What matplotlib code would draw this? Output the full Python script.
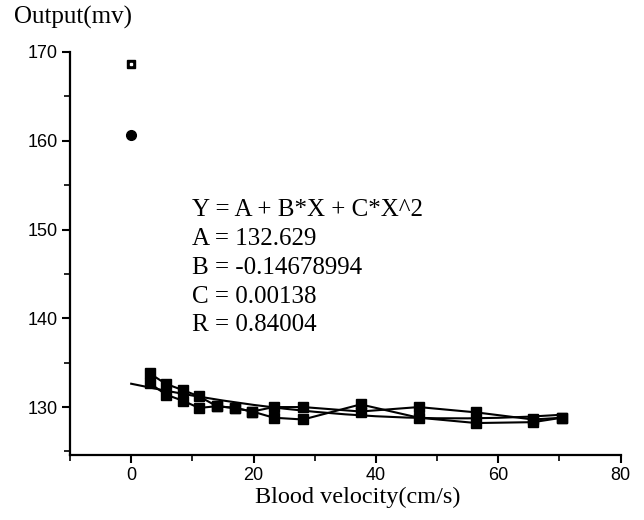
import matplotlib.pyplot as plt
from matplotlib.ticker import MultipleLocator

# 数据
vel = [3, 5.7, 8.5, 11.1, 14, 16.9, 19.8, 23.3, 28.1, 37.5, 47, 56.4, 65.7, 70.4]
out_a = [133.8, 132.6, 131.9, 131.2, 130.1, 129.9, 129.5, 130.0, 130.0, 129.5, 130.0, 129.4, 128.6, 128.8]
out_b = [132.7, 131.4, 130.7, 129.9, 130.1, 129.9, 129.5, 128.8, 128.6, 130.3, 128.8, 128.2, 128.3, 128.8]
zero_square = 168.7
zero_circle = 160.6

A = 132.629
B = -0.14678994
C = 0.00138
R = 0.84004
fit_x = [0, 5, 10, 15, 20, 25, 30, 35, 40, 45, 50, 55, 60, 65, 70.4]

fit_text = ["Y = A + B*X + C*X^2", "A = 132.629", "B = -0.14678994",
            "C = 0.00138", "R = 0.84004"]


def main():
    fig = plt.figure(figsize=(6.44, 5.2), dpi=100)
    ax = fig.add_axes([0.1087, 0.125, 0.855, 0.775])

    fit_y = [A + B * x + C * x * x for x in fit_x]
    ax.plot(fit_x, fit_y, color='black', lw=1.5)

    ax.plot(vel, out_a, color='black', lw=1.5, marker='s', ms=7.5)
    ax.plot(vel, out_b, color='black', lw=1.5, marker='s', ms=7.5)

    ax.plot(0, zero_square, marker='s', ms=6, color='black',
            markerfacecolor='black', markeredgecolor='black', ls='none')
    ax.plot(0, zero_square, marker='s', ms=1.5, color='white', ls='none')
    ax.plot(0, zero_circle, marker='o', ms=7, color='black', ls='none')

    ax.set_xlim(-10, 80)
    ax.set_ylim(124.6, 170)
    ax.xaxis.set_major_locator(MultipleLocator(20))
    ax.xaxis.set_minor_locator(MultipleLocator(10))
    ax.set_xticks([0, 20, 40, 60, 80])
    ax.yaxis.set_major_locator(MultipleLocator(10))
    ax.yaxis.set_minor_locator(MultipleLocator(5))
    ax.set_yticks([130, 140, 150, 160, 170])

    for s in ['top', 'right']:
        ax.spines[s].set_visible(False)
    for s in ['left', 'bottom']:
        ax.spines[s].set_linewidth(1.6)

    ax.tick_params(which='major', length=6, width=1.5, labelsize=13,
                   direction='out', pad=3)
    ax.tick_params(which='minor', length=4, width=1.2, direction='out')
    for lab in ax.get_xticklabels() + ax.get_yticklabels():
        lab.set_family('Liberation Sans')

    y0 = 0.596
    for i, t in enumerate(fit_text):
        fig.text(0.298, y0 - i * 0.0554, t, family='Liberation Serif',
                 fontsize=18, va='center', ha='left')

    fig.text(0.022, 0.967, "Output(mv)", family='Liberation Serif',
             fontsize=18, va='center', ha='left')
    fig.text(0.555, 0.044, "Blood velocity(cm/s)", family='Liberation Serif',
             fontsize=17.5, va='center', ha='center')

    fig.savefig('out.png', dpi=100)


if __name__ == '__main__':
    main()
